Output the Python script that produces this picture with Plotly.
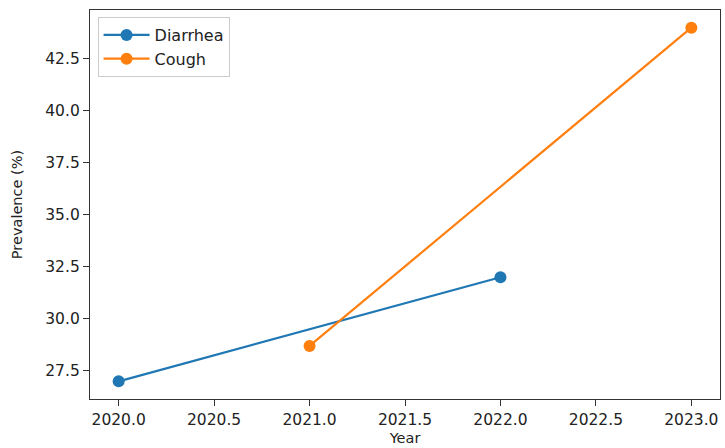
import plotly.graph_objects as go

# Prevalence by survey year
diarrhea_years = [2020, 2022]
diarrhea_values = [27.0, 32.0]
cough_years = [2021, 2023]
cough_values = [28.7, 44.0]

x_ticks = [2020.0, 2020.5, 2021.0, 2021.5, 2022.0, 2022.5, 2023.0]
y_ticks = [27.5, 30.0, 32.5, 35.0, 37.5, 40.0, 42.5]

tick_font = dict(family="DejaVu Sans", size=15.5, color="#222222")
title_font = dict(family="DejaVu Sans", size=14.5, color="#222222")

fig = go.Figure()
fig.add_trace(go.Scatter(
    x=diarrhea_years, y=diarrhea_values, name="Diarrhea", mode="lines+markers",
    line=dict(color="#1f77b4", width=2.2), marker=dict(size=12, color="#1f77b4"),
))
fig.add_trace(go.Scatter(
    x=cough_years, y=cough_values, name="Cough", mode="lines+markers",
    line=dict(color="#ff7f0e", width=2.2), marker=dict(size=12, color="#ff7f0e"),
))

axis_common = dict(
    showgrid=False, zeroline=False, showline=True, linecolor="#333333", linewidth=1.3,
    mirror=True, ticks="outside", ticklen=6, tickwidth=1.3, tickcolor="#333333",
    tickfont=tick_font,
)

fig.update_layout(
    width=725, height=448,
    margin=dict(l=90, r=4, t=10, b=46),
    paper_bgcolor="white", plot_bgcolor="white",
    font=tick_font,
    xaxis=dict(range=[2019.85, 2023.15], tickvals=x_ticks,
               ticktext=[f"{v:.1f}" for v in x_ticks],
               title=dict(text="Year", font=title_font, standoff=5), **axis_common),
    yaxis=dict(range=[26.15, 44.85], tickvals=y_ticks,
               ticktext=[f"{v:.1f}" for v in y_ticks],
               title=dict(text="Prevalence (%)", font=title_font, standoff=19), **axis_common),
    legend=dict(x=0.012, y=0.982, xanchor="left", yanchor="top",
                bgcolor="rgba(255,255,255,0.8)", bordercolor="#cccccc", borderwidth=1,
                font=dict(family="DejaVu Sans", size=16, color="#222222"),
                itemwidth=46, tracegroupgap=0),
    showlegend=True,
)

fig.write_html("out.html")
